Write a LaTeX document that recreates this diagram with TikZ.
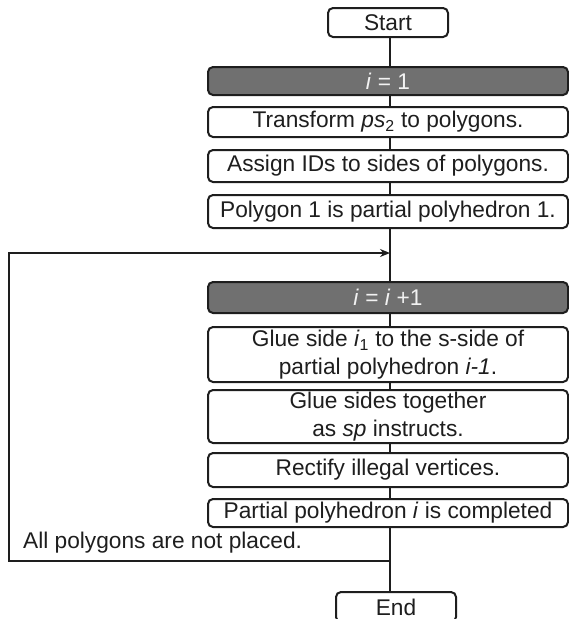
\documentclass[tikz,border=0pt]{standalone}
\usepackage{fontspec}
\setmainfont{Liberation Sans}
\usetikzlibrary{arrows.meta}
\definecolor{boxgray}{RGB}{112,112,112}
\definecolor{txtlight}{RGB}{242,242,242}
\definecolor{ink}{RGB}{30,30,30}
\tikzset{
  every node/.style={font=\fontsize{22.7}{28}\selectfont, text=ink},
  wbox/.style={draw=ink, line width=2pt, rounded corners=5pt, fill=white,
    minimum width=360pt, inner sep=0pt, align=center},
  gbox/.style={wbox, fill=boxgray, text=txtlight},
  tbox/.style={wbox, minimum width=120pt},
  conn/.style={draw=ink, line width=2pt},
}
\begin{document}
\begin{tikzpicture}[x=1pt,y=1pt]
\useasboundingbox (0,0) rectangle (569,-619);
\begin{scope}
\clip (0,0) rectangle (569,-619);
\node[tbox, minimum height=29pt] (start) at (388,-22.5) {Start};
\node[gbox, minimum height=28pt] (g1) at (388,-81) {\textit{i} = 1};
\node[wbox, minimum height=30pt] (tr) at (388,-122) {Transform \textit{ps}\textsubscript{2} to polygons.};
\node[wbox, minimum height=32pt] (as) at (388,-166) {Assign IDs to sides of polygons.};
\node[wbox, minimum height=33pt] (p1) at (388,-211.5) {Polygon 1 is partial polyhedron 1.};
\node[gbox, minimum height=31pt] (g2) at (388,-297.5) {\textit{i} = \textit{i} +1};
\node[wbox, minimum height=55pt] (gl1) at (388,-354.5) {Glue side \textit{i}\textsubscript{1} to the s-side of\\partial polyhedron \textit{i-1}.};
\node[wbox, minimum height=53pt] (gl2) at (388,-416.5) {Glue sides together\\as \textit{sp} instructs.};
\node[wbox, minimum height=34pt] (rc) at (388,-470) {Rectify illegal vertices.};
\node[wbox, minimum height=28pt] (pc) at (388,-513) {Partial polyhedron \textit{i} is completed};
\node[tbox, minimum height=30pt] (en) at (396,-607) {End};
\node[anchor=base west, inner sep=0pt] (lbl) at (23,-548) {All polygons are not placed.};
\coordinate (j) at (390,-561);
\coordinate (bl) at (9,-561);
\coordinate (tl) at (9,-253);
\coordinate (m) at (390,-253);
\draw[conn] (start.south -| 390,0) -- (g1.north -| 390,0);
\draw[conn] (g1.south -| 390,0) -- (tr.north -| 390,0);
\draw[conn] (tr.south -| 390,0) -- (as.north -| 390,0);
\draw[conn] (as.south -| 390,0) -- (p1.north -| 390,0);
\draw[conn] (p1.south -| 390,0) -- (g2.north -| 390,0);
\draw[conn] (g2.south -| 390,0) -- (gl1.north -| 390,0);
\draw[conn] (gl1.south -| 390,0) -- (gl2.north -| 390,0);
\draw[conn] (gl2.south -| 390,0) -- (rc.north -| 390,0);
\draw[conn] (rc.south -| 390,0) -- (pc.north -| 390,0);
\draw[conn] (pc.south -| 390,0) -- (j) -- (en.north -| 390,0);
\draw[conn, -{Stealth[length=10pt,width=8pt]}] (j) -- (bl) -- (tl) -- (m);
\end{scope}
\end{tikzpicture}
\end{document}
